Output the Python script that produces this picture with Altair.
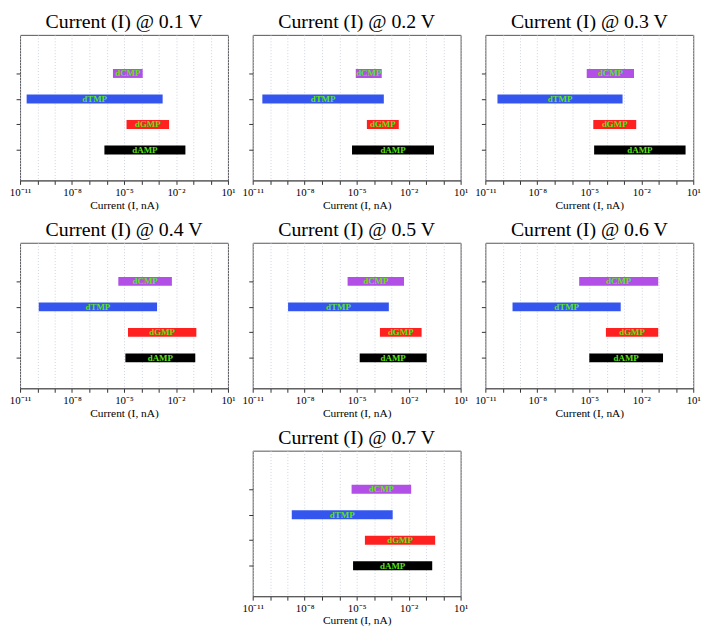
import altair as alt
import pandas as pd

voltages = ["0.1", "0.2", "0.3", "0.4", "0.5", "0.6", "0.7"]
nucleotides = ["dCMP", "dTMP", "dGMP", "dAMP"]
bar_colors = ["#B24FE6", "#3556EE", "#FF2020", "#000000"]

# current ranges (nA): order dCMP, dTMP, dGMP, dAMP
low_01 = [2.3e-6, 2.4e-11, 1.4e-5, 7.4e-7]
high_01 = [1.2e-4, 1.7e-3, 4.0e-3, 3.5e-2]
low_02 = [8.9e-6, 3.6e-11, 3.9e-5, 5.4e-6]
high_02 = [2.8e-4, 3.7e-4, 2.7e-3, 2.9e-1]
low_03 = [7.1e-6, 5.0e-11, 1.7e-5, 1.9e-5]
high_03 = [3.8e-3, 8.3e-4, 5.1e-3, 3.6]
low_04 = [4.7e-6, 1.2e-10, 1.7e-5, 1.2e-5]
high_04 = [5.8e-3, 8.1e-4, 1.5e-1, 1.3e-1]
low_05 = [3.0e-6, 1.1e-9, 2.2e-4, 1.5e-5]
high_05 = [5.4e-3, 7.2e-4, 5.6e-2, 1.1e-1]
low_06 = [2.6e-6, 3.7e-10, 9.1e-5, 1.0e-5]
high_06 = [9.5e-2, 6.5e-4, 9.5e-2, 1.8e-1]
low_07 = [5.1e-6, 1.8e-9, 3.0e-5, 6.2e-6]
high_07 = [1.4e-2, 1.2e-3, 3.4e-1, 2.3e-1]

lows = [low_01, low_02, low_03, low_04, low_05, low_06, low_07]
highs = [high_01, high_02, high_03, high_04, high_05, high_06, high_07]

tick_decades = [10.0 ** e for e in range(-11, 2)]

rows = []
for v, lo, hi in zip(voltages, lows, highs):
    for n, a, b in zip(nucleotides, lo, hi):
        rows.append({"voltage": v, "nucleotide": n, "low": a, "high": b})
df = pd.DataFrame(rows)

SERIF = "Liberation Serif"
W, H = 210, 147

label_expr = (
    "round(log(datum.value)/LN10) == -11 ? '10⁻¹¹' : "
    "round(log(datum.value)/LN10) == -8 ? '10⁻⁸' : "
    "round(log(datum.value)/LN10) == -5 ? '10⁻⁵' : "
    "round(log(datum.value)/LN10) == -2 ? '10⁻²' : "
    "round(log(datum.value)/LN10) == 1 ? '10¹' : ''"
)

xscale = alt.Scale(type="log", domain=[1e-11, 10], nice=False)
xaxis = alt.Axis(values=tick_decades, labelExpr=label_expr, labelOverlap=False,
                 labelFlush=False, tickSize=4, title="Current (I, nA)")
yscale = alt.Scale(domain=[0, 5.32], nice=False, zero=False)
yaxis = alt.Axis(values=[1, 2, 3, 4], labels=False, grid=False, title=None,
                 tickSize=4, domain=False)


def panel(v):
    base = alt.Chart(df).transform_filter(alt.datum.voltage == v).transform_calculate(
        ypos="indexof(['dAMP','dGMP','dTMP','dCMP'], datum.nucleotide) + 1",
        mid="exp((log(datum.low) + log(datum.high)) / 2)",
    )
    bars = base.mark_bar(size=9).encode(
        x=alt.X("low:Q", scale=xscale, axis=xaxis),
        x2="high:Q",
        y=alt.Y("ypos:Q", scale=yscale, axis=yaxis),
        color=alt.Color("nucleotide:N", scale=alt.Scale(domain=nucleotides, range=bar_colors), legend=None),
    )
    text = base.mark_text(font=SERIF, fontWeight="bold", fontSize=9, color="#5BE31A").encode(
        x=alt.X("mid:Q", scale=xscale, axis=xaxis),
        y=alt.Y("ypos:Q", scale=yscale, axis=yaxis),
        text="nucleotide:N",
    )
    return alt.layer(bars, text).properties(
        width=W, height=H,
        title=alt.Title(f"Current (I) @ {v} V", font=SERIF, fontSize=20,
                        fontWeight="normal", color="black", offset=3),
    )


top = alt.hconcat(panel("0.1"), panel("0.2"), panel("0.3"), spacing=5)
mid = alt.hconcat(panel("0.4"), panel("0.5"), panel("0.6"), spacing=5)
chart = alt.vconcat(top, mid, panel("0.7"), spacing=8, center=True).properties(
    padding=0
).configure_view(
    stroke="#555555", strokeWidth=1
).configure_axis(
    labelFont=SERIF, labelFontSize=11, labelColor="black",
    titleFont=SERIF, titleFontSize=11.5, titleFontWeight="normal", titleColor="black",
    tickColor="#333333", domainColor="#555555", titlePadding=2, labelPadding=2,
    gridColor="#c9cedb", gridDash=[1, 2], gridWidth=0.9,
).configure_concat(spacing=8)

chart.save("out.html", embed_options={"renderer": "svg", "actions": False})
